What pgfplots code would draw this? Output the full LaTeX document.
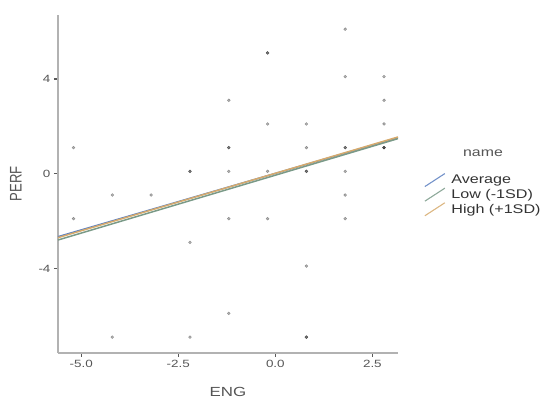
\documentclass[border=0pt]{standalone}
\usepackage{fontspec}
\setmainfont{Liberation Sans}
\newfontfamily\hfont[FakeStretch=1.28]{Liberation Sans}
\newfontfamily\vfont[FakeStretch=0.78]{Liberation Sans}
\usepackage{pgfplots}
\pgfplotsset{compat=1.18}
\definecolor{avgc}{HTML}{5B7FC0}
\definecolor{lowc}{HTML}{7A9A88}
\definecolor{highc}{HTML}{D6AA6C}
\definecolor{txt}{HTML}{555555}
\begin{document}
\begin{tikzpicture}
\begin{axis}[name=ax, at={(0,0)}, anchor=south west,
  scale only axis, width=340pt, height=338pt,
  xmin=-5.6, xmax=3.16, ymin=-7.57, ymax=6.7,
  axis x line*=bottom, axis y line*=left,
  axis line style={draw=black!30, line width=1.6pt},
  tick align=outside, major tick length=4pt,
  tick style={draw=black!65, line width=1.3pt},
  xtick={-5,-2.5,0,2.5}, xticklabels={-5.0,-2.5,0.0,2.5},
  ytick={-4,0,4}, yticklabels={-4,0,4},
  ticklabel style={font=\hfont\fontsize{10.5}{11}\selectfont, text=txt},
  /pgf/number format/assume math mode=true,
  xlabel={ENG}, ylabel={PERF},
  x label style={font=\hfont\fontsize{13.2}{14}\selectfont, text=txt, at={(axis description cs:0.5,-0.115)}, anchor=center},
  y label style={font=\vfont\fontsize{16.8}{17}\selectfont, text=txt, at={(axis description cs:-0.124,0.5)}, anchor=center},
  clip=false,
  legend style={at={(rel axis cs:1.068,0.539)}, anchor=north west, draw=none, fill=none,
    font=\hfont\fontsize{12.6}{13}\selectfont, text=black!80, row sep=0.5pt,
    nodes={inner sep=1.5pt}},
  legend cell align=left,
  legend image code/.code={\path[draw=none] (0pt,0pt) (25pt,0pt); \draw[#1, line width=1.1pt, draw opacity=0.85] (0pt,-6.5pt) -- (20pt,6.5pt);},
]
\addplot[only marks, mark=*, mark size=1.5pt, mark options={draw=none, fill=black, opacity=0.3}, forget plot] coordinates {
(-5.2,1.1) (-5.2,-1.9) (-4.2,-0.9) (-3.2,-0.9) (-2.2,0.1) (-2.2,0.1) (-2.2,-2.9) (-4.2,-6.9) (-2.2,-6.9)
(1.8,6.1) (-0.2,5.1) (-0.2,5.1) (1.8,4.1) (2.8,4.1) (-1.2,3.1) (2.8,3.1)
(-0.2,2.1) (0.8,2.1) (2.8,2.1)
(-1.2,1.1) (-1.2,1.1) (0.8,1.1) (1.8,1.1) (1.8,1.1) (2.8,1.1) (2.8,1.1) (2.8,1.1)
(-1.2,0.1) (-0.2,0.1) (0.8,0.1) (0.8,0.1) (1.8,0.1) (1.8,-0.9)
(-1.2,-1.9) (-0.2,-1.9) (1.8,-1.9) (0.8,-3.9) (-1.2,-5.9) (0.8,-6.9) (0.8,-6.9)
};
\addplot[avgc, line width=1.5pt] coordinates {(-5.6,-2.66) (3.16,1.52)};
\addlegendentry{Average}
\addplot[lowc, line width=1.5pt] coordinates {(-5.6,-2.80) (3.16,1.48)};
\addlegendentry{Low (-1SD)}
\addplot[highc, line width=1.5pt] coordinates {(-5.6,-2.70) (3.16,1.55)};
\addlegendentry{High (+1SD)}
\node[font=\hfont\fontsize{12.4}{13}\selectfont, text=txt] at (rel axis cs:1.25,0.592) {name};
\end{axis}
\pgfresetboundingbox
\path (ax.south west) ++(-58pt,-46pt) coordinate (bl);
\useasboundingbox (bl) rectangle ++(542pt,399pt);
\end{tikzpicture}
\end{document}
